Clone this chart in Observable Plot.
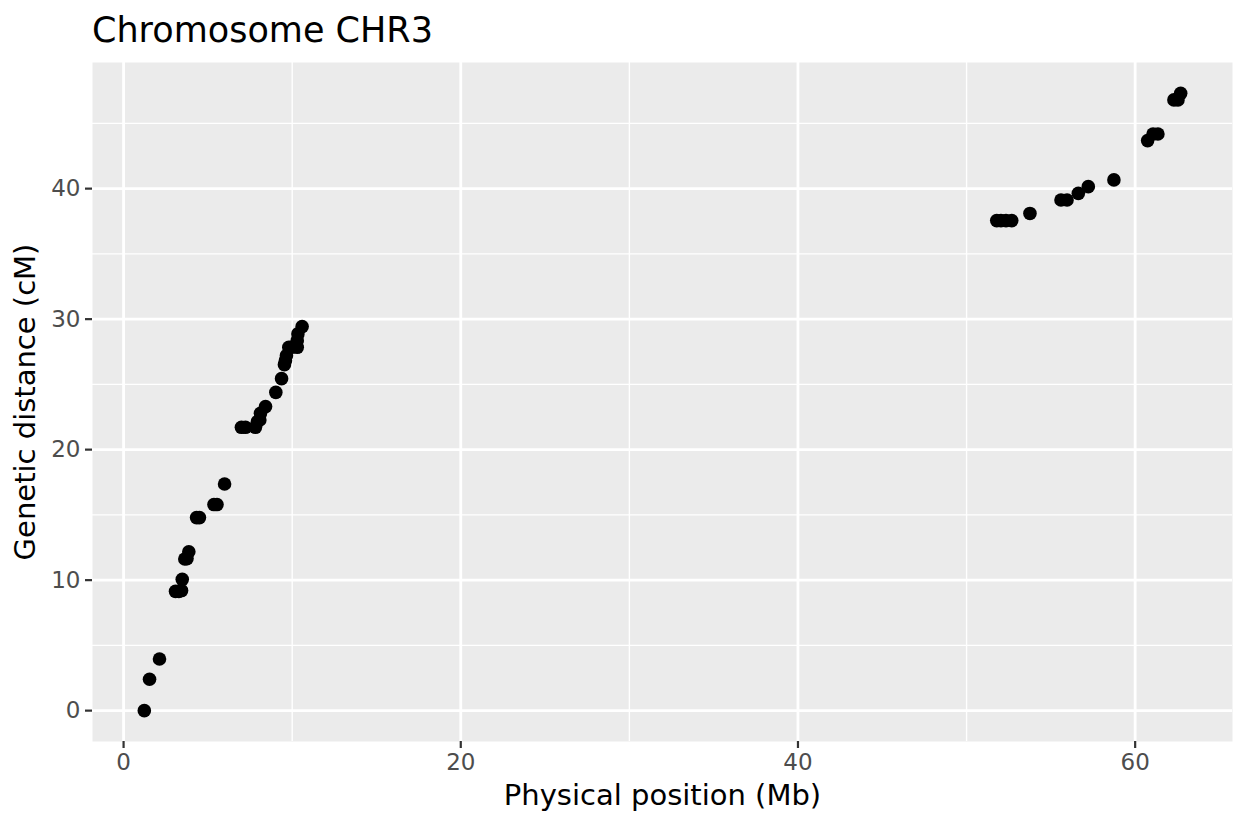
<!DOCTYPE html>
<html>
<head>
<meta charset="utf-8">
<script src="https://cdn.jsdelivr.net/npm/d3@7"></script>
<script src="https://cdn.jsdelivr.net/npm/@observablehq/plot@0.6"></script>
<style>
  html, body { margin: 0; padding: 0; background: white; }
  body { width: 1248px; height: 825px; overflow: hidden; font-family: "DejaVu Sans", sans-serif; }
  #title { height: 52px; box-sizing: border-box; padding-left: 92px; padding-top: 13px; font-size: 35px; line-height: 35px; color: black; white-space: nowrap; }
</style>
</head>
<body>
<div id="title">Chromosome CHR3</div>
<div id="chart"></div>
<script>
const positionMb = [
  1.23, 1.54, 2.13, 3.08, 3.28, 3.44, 3.48, 3.63, 3.76, 3.87,
  4.33, 4.50, 5.36, 5.54, 5.99, 6.99, 7.23, 7.82, 7.94, 8.08,
  8.12, 8.42, 9.03, 9.37, 9.54, 9.60, 9.66, 9.80, 9.96, 10.30,
  10.30, 10.34, 10.59,
  51.79, 52.04, 52.34, 52.68, 53.76, 55.60, 55.96, 56.63, 57.22, 58.74,
  60.74, 61.06, 61.35, 62.30, 62.54, 62.70
];
const distanceCM = [
  0.00, 2.40, 3.96, 9.14, 9.14, 9.20, 10.06, 11.62, 11.65, 12.18,
  14.79, 14.79, 15.79, 15.79, 17.37, 21.71, 21.71, 21.71, 22.15, 22.28,
  22.78, 23.30, 24.39, 25.44, 26.51, 26.82, 27.20, 27.84, 27.84, 27.84,
  28.35, 28.87, 29.43,
  37.55, 37.55, 37.55, 37.55, 38.10, 39.13, 39.13, 39.64, 40.15, 40.67,
  43.68, 44.19, 44.19, 46.80, 46.80, 47.30
];
const xMajorTicks = [0, 20, 40, 60];
const xMinorTicks = [10, 30, 50];
const yMajorTicks = [0, 10, 20, 30, 40];
const yMinorTicks = [5, 15, 25, 35, 45];

const data = positionMb.map((x, i) => ({x, y: distanceCM[i]}));

function expand(ext) {
  const d = (ext[1] - ext[0]) * 0.05;
  return [ext[0] - d, ext[1] + d];
}
const xDomain = expand(d3.extent(positionMb));
const yDomain = expand(d3.extent(distanceCM));

const chart = Plot.plot({
  width: 1248,
  height: 773,
  marginTop: 10,
  marginBottom: 84,
  marginLeft: 92,
  marginRight: 16,
  style: { fontFamily: "DejaVu Sans, sans-serif", background: "white", overflow: "visible" },
  x: { domain: xDomain },
  y: { domain: yDomain },
  marks: [
    Plot.frame({ fill: "#EBEBEB", stroke: null }),
    Plot.ruleX(xMinorTicks, { stroke: "white", strokeWidth: 1.4 }),
    Plot.ruleY(yMinorTicks, { stroke: "white", strokeWidth: 1.4 }),
    Plot.ruleX(xMajorTicks, { stroke: "white", strokeWidth: 2.8 }),
    Plot.ruleY(yMajorTicks, { stroke: "white", strokeWidth: 2.8 }),
    Plot.dot(data, { x: "x", y: "y", r: 6.8, fill: "black", stroke: null }),
    Plot.axisX({
      ticks: xMajorTicks, tickSize: 7, tickPadding: 5, fontSize: 23,
      stroke: "#333333", strokeWidth: 2.2,
      label: "Physical position (Mb)", labelAnchor: "center", labelArrow: "none", labelOffset: 63
    }),
    Plot.axisY({
      ticks: yMajorTicks, tickSize: 7, tickPadding: 5, fontSize: 23,
      stroke: "#333333", strokeWidth: 2.2,
      label: "Genetic distance (cM)", labelAnchor: "center", labelArrow: "none", labelOffset: 78
    })
  ]
});
document.getElementById("chart").appendChild(chart);

const svg = d3.select(chart);
svg.selectAll('g[aria-label="x-axis tick label"], g[aria-label="y-axis tick label"]').attr("fill", "#4D4D4D");
svg.selectAll('g[aria-label="x-axis label"], g[aria-label="y-axis label"]').attr("font-size", 29).attr("fill", "black");
</script>
</body>
</html>
